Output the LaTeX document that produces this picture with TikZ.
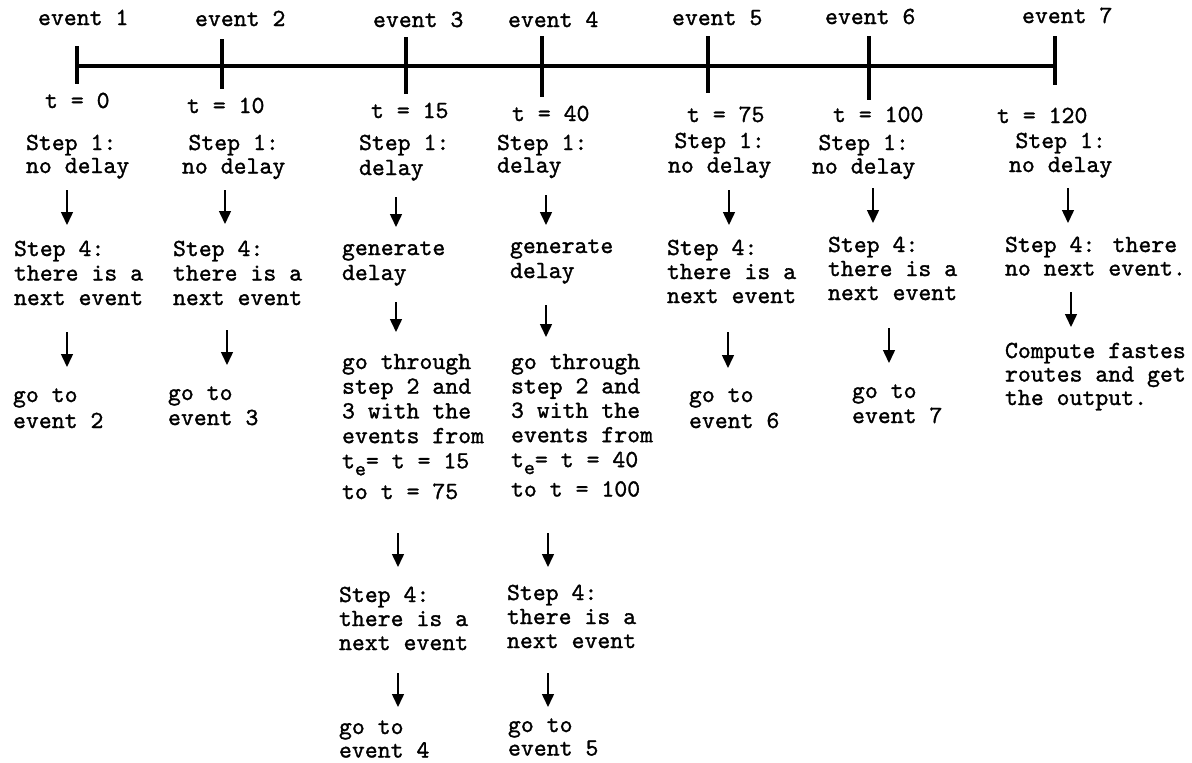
\documentclass[tikz,border=0pt]{standalone}
\usepackage{fontspec}
\usetikzlibrary{arrows.meta}
\newfontfamily\cour{lmmono10-regular.otf}[FakeBold=1.2]
\newcommand\fsz{24.6}
\newcommand\blk[2]{\fontsize{\fsz}{#1}\selectfont\begin{tabular}[t]{@{}l@{}}#2\end{tabular}}
\newcommand\cblk[2]{\fontsize{\fsz}{#1}\selectfont\begin{tabular}[t]{@{}c@{}}#2\end{tabular}}
\newcommand\sube{\raisebox{-7pt}{\fontsize{21}{21}\selectfont e}}
\tikzset{
  txt/.style={anchor=base west, inner sep=0pt, outer sep=0pt, text=black, font=\cour\fontsize{\fsz}{24.5}\selectfont},
  axis/.style={line width=4pt, black},
  tick/.style={line width=4pt, black},
  arr/.style={line width=1.5pt, black, -{Triangle[width=12pt,length=13pt]}}
}
\begin{document}
\begin{tikzpicture}[x=1pt,y=-1pt]
\useasboundingbox (0,0) rectangle (1192,763);
\fill[white] (0,0) rectangle (1192,763);

% timeline
\coordinate (L0) at (77,66);
\coordinate (L1) at (1055,66);
\draw[axis] (L0) -- (L1);
\draw[tick] (77,46) -- (77,84);
\draw[tick] (222,39) -- (222,89);
\draw[tick] (406,37) -- (406,94);
\draw[tick] (542,36) -- (542,97);
\draw[tick] (708,36) -- (708,93);
\draw[tick] (869,36) -- (869,100);
\draw[tick] (1055,36) -- (1055,85);

% event labels
\node[txt] (e1) at (38,25) {event 1};
\node[txt] (e2) at (195,26) {event 2};
\node[txt] (e3) at (373,27) {event 3};
\node[txt] (e4) at (508,27) {event 4};
\node[txt] (e5) at (672,25) {event 5};
\node[txt] (e6) at (825,24) {event 6};
\node[txt] (e7) at (1022,23) {event 7};

% time labels
\node[txt] (t1) at (45,108) {t = 0};
\node[txt] (t2) at (187,113) {t = 10};
\node[txt] (t3) at (371,118) {t = 15};
\node[txt] (t4) at (512,121) {t = 40};
\node[txt] (t5) at (687,122) {t = 75};
\node[txt] (t6) at (833,122) {t = 100};
\node[txt] (t7) at (997,123) {t = 120};

% step 1
\node[txt] (s1a) at (26,150) {\blk{23}{Step 1:\\no delay}};
\node[txt] (s1b) at (182,150) {\cblk{23.5}{Step 1:\\no delay}};
\node[txt] (s1c) at (359,150) {\blk{25}{Step 1:\\ delay}};
\node[txt] (s1d) at (497,150) {\blk{22.5}{Step 1:\\delay}};
\node[txt] (s1e) at (668,148) {\cblk{24.5}{Step 1:\\no delay}};
\node[txt] (s1f) at (812,150) {\cblk{23.5}{Step 1:\\no delay}};
\node[txt] (s1g) at (1009,148) {\cblk{24}{Step 1:\\no delay}};

% step 4 / generate
\node[txt] (s4a) at (14,256) {\blk{24.5}{Step 4:\\there is a\\next event}};
\node[txt] (s4b) at (173,256) {\blk{24.5}{Step 4:\\there is a\\next event}};
\node[txt] (g3) at (342,255) {\blk{25}{generate\\delay}};
\node[txt] (g4) at (510,253) {\blk{25}{generate\\delay}};
\node[txt] (s4e) at (667,255) {\blk{24}{Step 4:\\there is a\\next event}};
\node[txt] (s4f) at (828,252) {\blk{24}{Step 4:\\there is a\\next event}};
\node[txt] (s4g) at (1005,252) {\blk{23.5}{Step 4: there\\no next event.}};

% third row
\node[txt] (goa) at (13,402) {\blk{26}{go to\\event 2}};
\node[txt] (gob) at (168,400) {\blk{25}{go to\\event 3}};
\node[txt] (gt3) at (342,369) {\blk{24.7}{go through\\step 2 and\\3 with the\\events from\\[0.5pt]t\sube= t = 15\\[6pt]to t = 75}};
\node[txt] (gt4) at (511,369) {\blk{24.4}{go through\\step 2 and\\3 with the\\events from\\[0.5pt]t\sube= t = 40\\[5pt]to t = 100}};
\node[txt] (goe) at (689,402) {\blk{26}{go to\\event 6}};
\node[txt] (gof) at (852,398) {\blk{25}{go to\\event 7}};
\node[txt] (cmp) at (1005,358) {\blk{23.5}{Compute fastes\\routes and get\\the output.}};

% lower rows col 3/4
\node[txt] (s4c) at (339,602) {\blk{24}{Step 4:\\there is a\\next event}};
\node[txt] (s4d) at (507,600) {\blk{24}{Step 4:\\there is a\\next event}};
\node[txt] (goc) at (339,734) {\blk{23.5}{go to\\event 4}};
\node[txt] (god) at (508,732) {\blk{23.5}{go to\\event 5}};

% arrow end points
\coordinate (a1s) at (67,190);  \coordinate (a1e) at (67,225);
\coordinate (b1s) at (67,332);  \coordinate (b1e) at (67,367);
\coordinate (a2s) at (225,190); \coordinate (a2e) at (225,224);
\coordinate (b2s) at (227,330); \coordinate (b2e) at (227,365);
\coordinate (a3s) at (396,197); \coordinate (a3e) at (396,227);
\coordinate (b3s) at (396,302); \coordinate (b3e) at (396,332);
\coordinate (c3s) at (398,533); \coordinate (c3e) at (398,567);
\coordinate (d3s) at (398,673); \coordinate (d3e) at (398,707);
\coordinate (a4s) at (546,195); \coordinate (a4e) at (546,225);
\coordinate (b4s) at (546,305); \coordinate (b4e) at (546,337);
\coordinate (c4s) at (548,533); \coordinate (c4e) at (548,567);
\coordinate (d4s) at (548,673); \coordinate (d4e) at (548,707);
\coordinate (a5s) at (729,190); \coordinate (a5e) at (729,225);
\coordinate (b5s) at (728,332); \coordinate (b5e) at (728,368);
\coordinate (a6s) at (873,188); \coordinate (a6e) at (873,223);
\coordinate (b6s) at (889,328); \coordinate (b6e) at (889,363);
\coordinate (a7s) at (1068,188); \coordinate (a7e) at (1068,223);
\coordinate (b7s) at (1071,292); \coordinate (b7e) at (1071,327);

\foreach \c in {a1,b1,a2,b2,a3,b3,c3,d3,a4,b4,c4,d4,a5,b5,a6,b6,a7,b7}
  \draw[arr] (\c s) -- (\c e);
\end{tikzpicture}
\end{document}
